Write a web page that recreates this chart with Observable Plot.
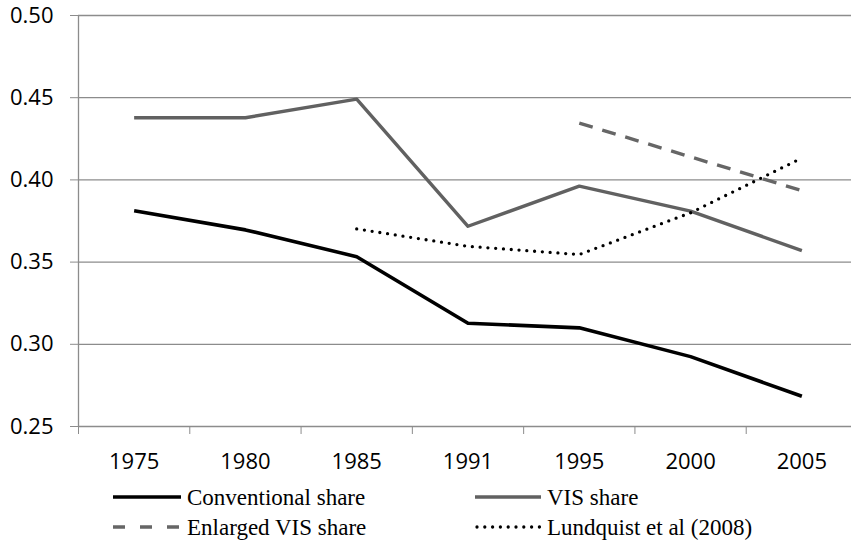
<!DOCTYPE html>
<html>
<head>
<meta charset="utf-8">
<script src="https://cdn.jsdelivr.net/npm/d3@7"></script>
<script src="https://cdn.jsdelivr.net/npm/@observablehq/plot@0.6"></script>
<style>
  html, body { margin: 0; padding: 0; background: #fff; }
  #chart { width: 851px; overflow: hidden; }
  #legend {
    width: 851px; height: 62px; box-sizing: border-box;
    padding-top: 2px; padding-left: 113px;
    display: grid; grid-template-columns: 362px auto;
    font-family: "Liberation Serif", "Times New Roman", serif; font-size: 23px;
    line-height: 29px; color: #000;
  }
  .item { display: flex; align-items: center; white-space: nowrap; }
  .item svg { margin-right: 6px; flex: none; }
</style>
</head>
<body>
<div id="chart"></div>
<div id="legend"></div>
<script>
const years = ["1975", "1980", "1985", "1991", "1995", "2000", "2005"];
const conventional = [0.3812, 0.3696, 0.3533, 0.3128, 0.3100, 0.2925, 0.2684];
const visShare = [0.4378, 0.4378, 0.4491, 0.3718, 0.3962, 0.3810, 0.3570];
const enlargedVis = [null, null, null, null, 0.4346, 0.4140, 0.3935];
const lundquist = [null, null, 0.3702, 0.3596, 0.3546, 0.3800, 0.4133];
const yTicks = [0.25, 0.30, 0.35, 0.40, 0.45, 0.50];
const seriesNames = ["Conventional share", "VIS share", "Enlarged VIS share", "Lundquist et al (2008)"];

const seriesStyles = [
  {stroke: "#000000", strokeWidth: 3.6, dash: null, legendDash: null},
  {stroke: "#616161", strokeWidth: 3.4, dash: null, legendDash: null},
  {stroke: "#666666", strokeWidth: 3.4, dash: "14,10", legendDash: "12,15"},
  {stroke: "#000000", strokeWidth: 3.3, dash: "0,7.8", legendDash: "0,7.8", cap: "round"}
];
const seriesValues = [conventional, visShare, enlargedVis, lundquist];

const toRows = vals => vals.map((v, i) => ({i, v})).filter(d => d.v != null);
const idx = d3.range(years.length);
const edges = d3.range(years.length + 1).map(i => i - 0.5);

const lineMarks = seriesValues.map((vals, k) => {
  const s = seriesStyles[k];
  return Plot.line(toRows(vals), {
    x: "i", y: "v", stroke: s.stroke, strokeWidth: s.strokeWidth,
    strokeDasharray: s.dash || undefined,
    strokeLinecap: s.cap || "butt", strokeLinejoin: "round"
  });
});

const chart = Plot.plot({
  width: 851,
  height: 480,
  marginLeft: 78,
  marginRight: -6,
  marginTop: 15,
  marginBottom: 54,
  style: {fontFamily: "'Open Sans', sans-serif", fontSize: "22px", color: "#000", background: "#fff", overflow: "hidden"},
  x: {type: "linear", domain: [edges[0], edges[edges.length - 1]], label: null},
  y: {domain: [yTicks[0], yTicks[yTicks.length - 1]], label: null},
  marks: [
    Plot.gridY(yTicks, {stroke: "#8c8c8c", strokeOpacity: 1, strokeWidth: 1.3}),
    Plot.ruleX([edges[0]], {stroke: "#8c8c8c", strokeWidth: 1.3}),
    Plot.axisY(yTicks, {tickFormat: d => d.toFixed(2), tickSize: 8, tickPadding: 17, stroke: "#8c8c8c", fill: "#000", fontSize: 22, label: null}),
    Plot.axisX(edges, {tickFormat: () => "", tickSize: 8, stroke: "#8c8c8c", label: null}),
    Plot.axisX(idx, {tickFormat: i => years[i], tickSize: 0, tickPadding: 27, fill: "#000", fontSize: 22, label: null}),
    ...lineMarks
  ]
});
document.getElementById("chart").appendChild(chart);

// Legend
const legend = d3.select("#legend");
[0, 1, 2, 3].forEach(k => {
  const s = seriesStyles[k];
  const item = legend.append("div").attr("class", "item");
  const w = k % 2 === 0 ? 68 : 66;
  const svg = item.append("svg").attr("width", w).attr("height", 10);
  svg.append("line")
    .attr("x1", s.cap === "round" ? 2 : 0).attr("x2", w).attr("y1", 5).attr("y2", 5)
    .attr("stroke", s.stroke).attr("stroke-width", s.strokeWidth)
    .attr("stroke-dasharray", s.legendDash)
    .attr("stroke-linecap", s.cap || "butt");
  item.append("span").text(seriesNames[k]);
});
</script>
</body>
</html>
